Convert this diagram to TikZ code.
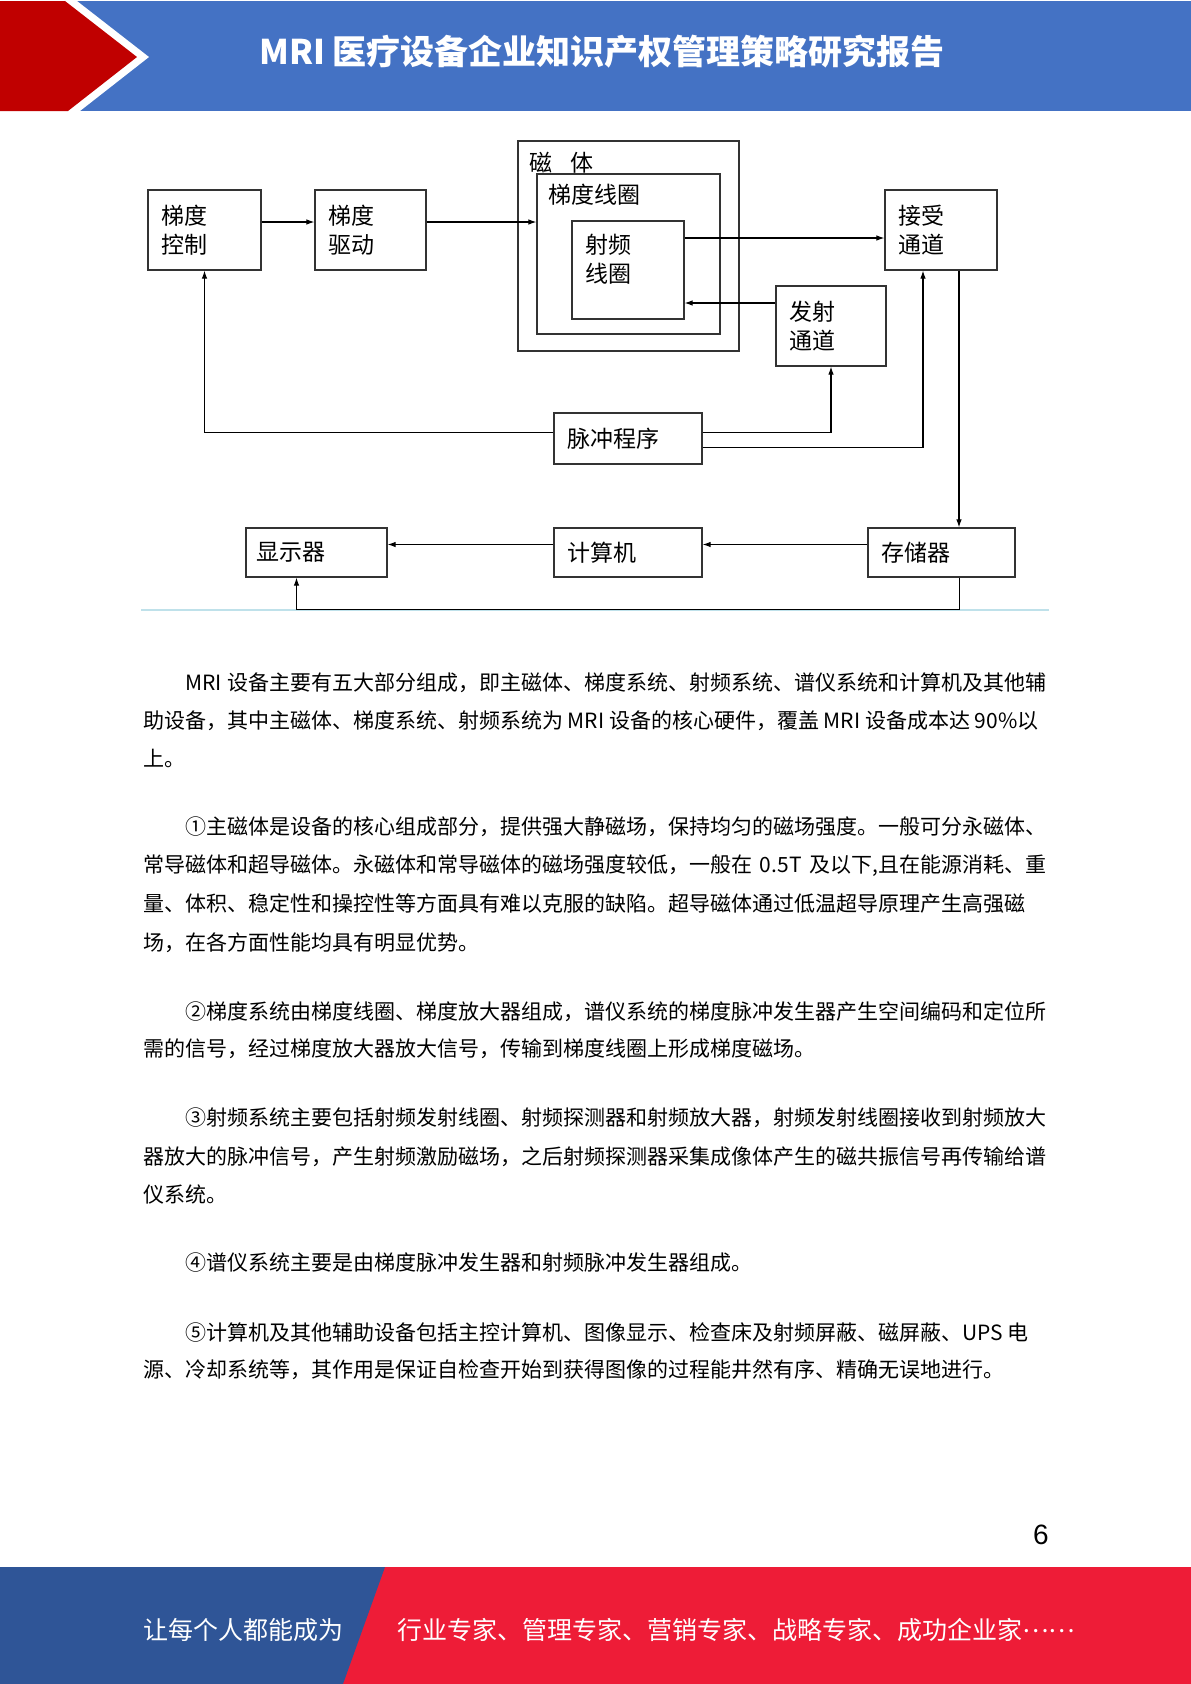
\documentclass[tikz,border=0pt]{standalone}
\usepackage{fontspec}
\setmainfont{Noto Sans CJK SC}
\newfontfamily\numfont{Liberation Sans}
\usetikzlibrary{arrows.meta}
\XeTeXlinebreaklocale "zh"
\XeTeXlinebreakskip=0pt plus 3pt
\definecolor{hdrred}{HTML}{C00000}
\definecolor{hdrblue}{HTML}{4472C4}
\definecolor{ftblue}{HTML}{2F5597}
\definecolor{ftred}{HTML}{EE1C37}
\definecolor{rulecyan}{HTML}{BFE1EA}
\newcommand\bodyfont{\fontsize{21}{21}\selectfont}
\newcommand\boxfont{\fontsize{23}{29}\selectfont}
\newcommand\fullln[1]{\hbox to 903pt{#1}}
\newcommand\indln[1]{\hbox to 903pt{\hskip 42pt #1}}

\begin{document}
\begin{tikzpicture}[x=1pt, y=-1pt,
    blk/.style={draw=black!80, line width=1.2pt, inner sep=0pt},
    boxt/.style={blk, inner xsep=13pt, inner ysep=0pt, align=left, font=\boxfont},
    lbl/.style={font=\boxfont, inner sep=0pt, anchor=west, align=left},
    arr/.style={line width=1.1pt, -{Latex[length=8pt,width=5.5pt]}},
    wire/.style={line width=1.1pt},
    txt/.style={font=\bodyfont, inner sep=0pt, anchor=west}]
    \useasboundingbox (0,0) rectangle (1191,1684);

    % header band
    \fill[hdrblue] (0,1) rectangle (1191,111);
    \fill[white] (0,1) -- (77,1) -- (149,57) -- (80,111) -- (0,111) -- cycle;
    \fill[hdrred] (0,1) -- (65,1) -- (137,57) -- (68,111) -- (0,111) -- cycle;
    \node[font=\fontsize{34}{34}\selectfont\bfseries, text=white] (title) at (602,52)
        {MRI 医疗设备企业知识产权管理策略研究报告};

    % blocks
    \node[boxt, text width=87pt, minimum height=80pt] (ctrl) at (204.5,230) {梯度\\控制};
    \node[boxt, text width=85pt, minimum height=80pt] (drv) at (370.5,230) {梯度\\驱动};
    \node[blk, minimum width=221pt, minimum height=210pt] (magnet) at (628.5,246) {};
    \node[blk, minimum width=183pt, minimum height=160pt] (gcoil) at (628.5,254) {};
    \node[blk, minimum width=112pt, minimum height=98pt] (rfcoil) at (628,270) {};
    \node[lbl] (maglbl) at (529,163) {磁\hspace{18pt}体};
    \node[lbl] (gclbl) at (548,195) {梯度线圈};
    \node[lbl] (rflbl) at (585,259) {射频\\线圈};
    \node[boxt, text width=86pt, minimum height=80pt] (recv) at (941,230) {接受\\通道};
    \node[boxt, text width=84pt, minimum height=80pt] (tx) at (831,326) {发射\\通道};
    \node[boxt, text width=122pt, minimum height=51pt] (pulse) at (628,438.5) {脉冲程序};
    \node[boxt, text width=121pt, minimum height=49pt, inner xsep=10pt] (disp) at (316.5,552.5) {显示器};
    \node[boxt, text width=122pt, minimum height=49pt] (comp) at (628,552.5) {计算机};
    \node[boxt, text width=121pt, minimum height=49pt] (store) at (941.5,552.5) {存储器};

    % connectors
    \draw[arr] ([yshift=8pt]ctrl.east) -- ([yshift=8pt]drv.west);
    \draw[arr] ([yshift=8pt]drv.east) -- ([yshift=8pt]drv.east -| gcoil.west);
    \draw[arr] ([yshift=-8pt]recv.west -| rfcoil.east) -- ([yshift=-8pt]recv.west);
    \draw[arr] ([yshift=23pt]tx.west) -- ([yshift=23pt]tx.west -| rfcoil.east);
    \draw[arr] ([yshift=6pt]pulse.west) -| (ctrl.south);
    \draw[arr] ([yshift=6pt]pulse.east) -| (tx.south);
    \draw[arr] ([yshift=-9pt]pulse.east) -| ([xshift=-18pt]recv.south);
    \draw[arr] ([xshift=18pt]recv.south) -- ([xshift=18pt]recv.south |- store.north);
    \draw[arr] ([yshift=8pt]store.west) -- ([yshift=8pt]comp.east);
    \draw[arr] ([yshift=8pt]comp.west) -- ([yshift=8pt]disp.east);
    % rule under the figure
    \draw[rulecyan, line width=1.5pt] (141,610) -- (1049,610);
    \draw[arr] ([xshift=18pt]store.south) -- ++(0,32) -| ([xshift=-20pt]disp.south);

    % body text
    \node[txt] (p0a) at (143,683) {\indln{MRI 设备主要有五大部分组成，即主磁体、梯度系统、射频系统、谱仪系统和计算机及其他辅}};
    \node[txt] (p0b) at (143,721) {助设备，其中主磁体、梯度系统、射频系统为 MRI 设备的核心硬件，覆盖 MRI 设备成本达 90\%以};
    \node[txt] (p0c) at (143,758) {上。};

    \node[txt] (p1a) at (143,827) {\indln{①主磁体是设备的核心组成部分，提供强大静磁场，保持均匀的磁场强度。一般可分永磁体、}};
    \node[txt] (p1b) at (143,866) {\fullln{常导磁体和超导磁体。永磁体和常导磁体的磁场强度较低，一般在 0.5T 及以下,且在能源消耗、重}};
    \node[txt] (p1c) at (143,904) {量、体积、稳定性和操控性等方面具有难以克服的缺陷。超导磁体通过低温超导原理产生高强磁};
    \node[txt] (p1d) at (143,943) {场，在各方面性能均具有明显优势。};

    \node[txt] (p2a) at (143,1012) {\indln{②梯度系统由梯度线圈、梯度放大器组成，谱仪系统的梯度脉冲发生器产生空间编码和定位所}};
    \node[txt] (p2b) at (143,1049) {需的信号，经过梯度放大器放大信号，传输到梯度线圈上形成梯度磁场。};

    \node[txt] (p3a) at (143,1118) {\indln{③射频系统主要包括射频发射线圈、射频探测器和射频放大器，射频发射线圈接收到射频放大}};
    \node[txt] (p3b) at (143,1157) {\fullln{器放大的脉冲信号，产生射频激励磁场，之后射频探测器采集成像体产生的磁共振信号再传输给谱}};
    \node[txt] (p3c) at (143,1194) {仪系统。};

    \node[txt] (p4a) at (143,1263) {\hskip 42pt ④谱仪系统主要是由梯度脉冲发生器和射频脉冲发生器组成。};

    \node[txt] (p5a) at (143,1332) {\hskip 42pt ⑤计算机及其他辅助设备包括主控计算机、图像显示、检查床及射频屏蔽、磁屏蔽、UPS 电};
    \node[txt] (p5b) at (143,1370) {源、冷却系统等，其作用是保证自检查开始到获得图像的过程能井然有序、精确无误地进行。};

    % page number
    \node[font=\numfont\fontsize{28}{28}\selectfont] (pnum) at (1041,1535) {6};

    % footer band
    \fill[ftred] (0,1567) rectangle (1191,1684);
    \fill[ftblue] (0,1567) -- (385,1567) -- (343,1684) -- (0,1684) -- cycle;
    \node[font=\fontsize{25}{25}\selectfont, text=white, anchor=west, inner sep=0pt] (slogan) at (143,1630) {让每个人都能成为};
    \node[font=\fontsize{25}{25}\selectfont, text=white, anchor=west, inner sep=0pt] (roles) at (397,1630) {行业专家、管理专家、营销专家、战略专家、成功企业家\raisebox{0.3em}{……}};
\end{tikzpicture}
\end{document}
